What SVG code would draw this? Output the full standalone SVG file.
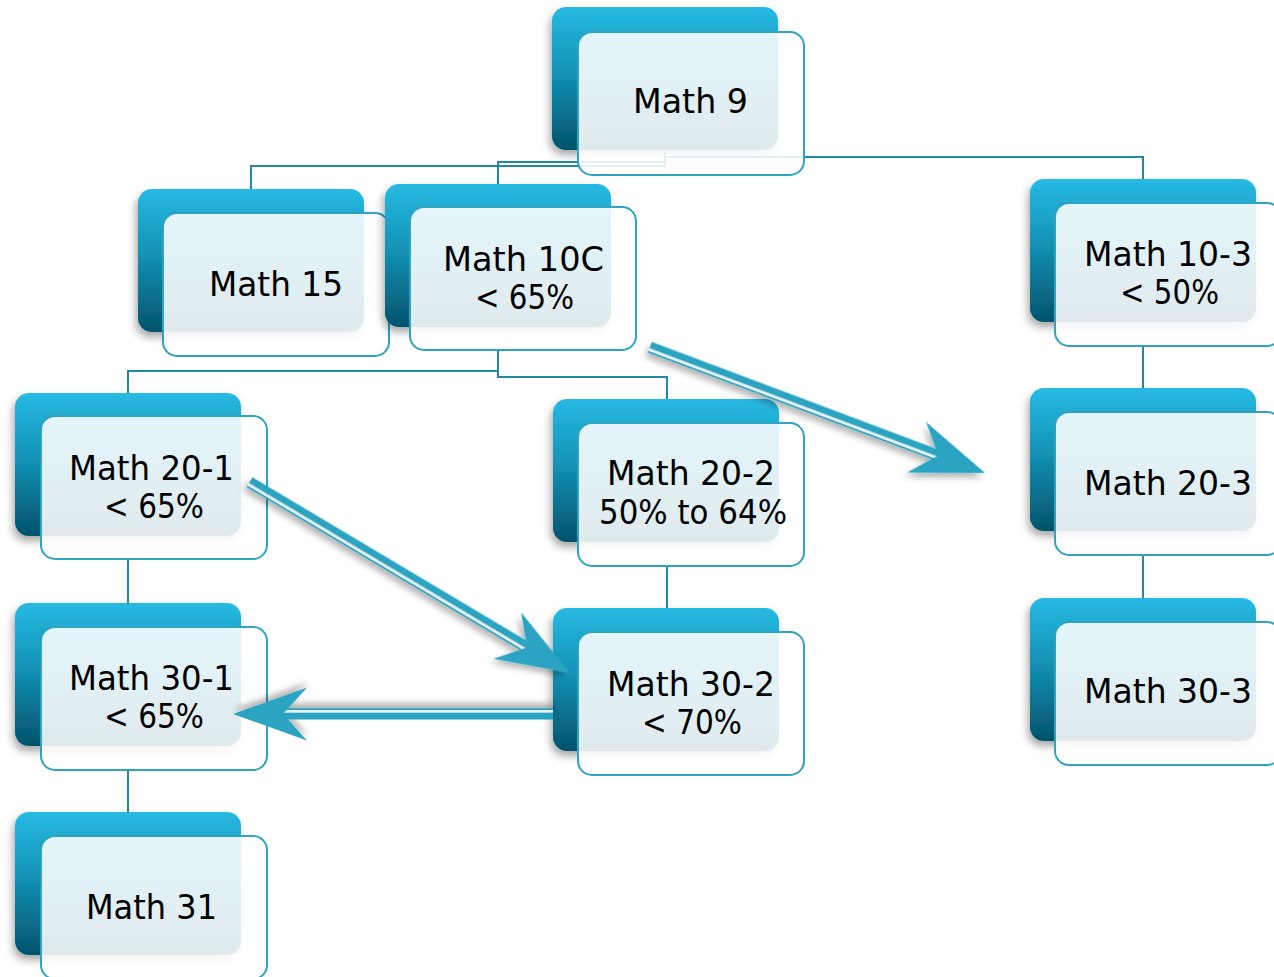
<svg xmlns="http://www.w3.org/2000/svg" width="1274" height="977" viewBox="0 0 1274 977">
<defs>
<linearGradient id="backGrad" x1="0" y1="0" x2="0" y2="1">
<stop offset="0" stop-color="#27bae2"/>
<stop offset="0.45" stop-color="#1393b6"/>
<stop offset="1" stop-color="#03536b"/>
</linearGradient>
<filter id="shadow" x="-20%" y="-20%" width="140%" height="150%">
<feDropShadow dx="-2" dy="5" stdDeviation="4" flood-color="#000" flood-opacity="0.35"/>
</filter>
<filter id="ashadow" x="-20%" y="-50%" width="140%" height="200%">
<feDropShadow dx="-1" dy="5" stdDeviation="3" flood-color="#000" flood-opacity="0.3"/>
</filter>
<g id="arrow">
<polygon points="0,-5.5 -270,-5.5 -270,5.5 0,5.5" fill="#2ba3c0"/>
</g>
</defs>
<style>
.back{fill:url(#backGrad);filter:url(#shadow)}
.front{fill:#ffffff;fill-opacity:0.88;stroke:#2fa3c0;stroke-width:2}
.lbl{font-family:"DejaVu Sans","Liberation Sans",sans-serif;font-size:33px;fill:#000;text-anchor:middle}
.conn{fill:none;stroke:#2289a5;stroke-width:2}
.ahead{fill:#2ba4c0}
.ashaft{fill:#2ba4c0}
.astripe{fill:#e8f2f5}
</style>

<g id="connectors">
<path class="conn" d="M665,151 V166 H251 V189"/>
<path class="conn" d="M665,151 V162 H498 V184"/>
<path class="conn" d="M665,151 V157 H1143 V179"/>
<path class="conn" d="M498,350 V371 H128 V393"/>
<path class="conn" d="M498,350 V377 H667 V399"/>
<path class="conn" d="M1143,346 V388"/>
<path class="conn" d="M1143,555 V598"/>
<path class="conn" d="M128,559 V603"/>
<path class="conn" d="M128,769 V812"/>
<path class="conn" d="M667,565 V608"/>
</g>

<g id="node-math9">
<rect class="back" x="552" y="7" width="226" height="143" rx="14"/>
<rect class="front" x="578" y="32" width="226" height="143" rx="14"/>
<text class="lbl" x="690.5" y="113" textLength="115" lengthAdjust="spacingAndGlyphs">Math 9</text>
</g>
<g id="node-math15">
<rect class="back" x="138" y="189" width="226" height="143" rx="14"/>
<rect class="front" x="163" y="213" width="226" height="143" rx="14"/>
<text class="lbl" x="276" y="296" textLength="134" lengthAdjust="spacingAndGlyphs">Math 15</text>
</g>
<g id="node-math10c">
<rect class="back" x="385" y="184" width="226" height="143" rx="14"/>
<rect class="front" x="410" y="207" width="226" height="143" rx="14"/>
<text class="lbl" x="523.5" y="271" textLength="161" lengthAdjust="spacingAndGlyphs">Math 10C</text>
<text class="lbl" x="524.5" y="309" textLength="99" lengthAdjust="spacingAndGlyphs">&lt; 65%</text>
</g>
<g id="node-math10-3">
<rect class="back" x="1030" y="179" width="226" height="143" rx="14"/>
<rect class="front" x="1055" y="203" width="226" height="143" rx="14"/>
<text class="lbl" x="1168" y="266" textLength="168" lengthAdjust="spacingAndGlyphs">Math 10-3</text>
<text class="lbl" x="1169.5" y="304" textLength="99" lengthAdjust="spacingAndGlyphs">&lt; 50%</text>
</g>
<g id="node-math20-1">
<rect class="back" x="15" y="393" width="226" height="143" rx="14"/>
<rect class="front" x="41" y="416" width="226" height="143" rx="14"/>
<text class="lbl" x="151.5" y="480" textLength="165" lengthAdjust="spacingAndGlyphs">Math 20-1</text>
<text class="lbl" x="154" y="518" textLength="100" lengthAdjust="spacingAndGlyphs">&lt; 65%</text>
</g>
<g id="node-math20-2">
<rect class="back" x="553" y="399" width="226" height="143" rx="14"/>
<rect class="front" x="578" y="423" width="226" height="143" rx="14"/>
<text class="lbl" x="691" y="485" textLength="168" lengthAdjust="spacingAndGlyphs">Math 20-2</text>
<text class="lbl" x="693" y="524" textLength="188" lengthAdjust="spacingAndGlyphs">50% to 64%</text>
</g>
<g id="node-math20-3">
<rect class="back" x="1030" y="388" width="226" height="143" rx="14"/>
<rect class="front" x="1055" y="412" width="226" height="143" rx="14"/>
<text class="lbl" x="1168" y="495" textLength="168" lengthAdjust="spacingAndGlyphs">Math 20-3</text>
</g>
<g id="node-math30-1">
<rect class="back" x="15" y="603" width="226" height="143" rx="14"/>
<rect class="front" x="41" y="627" width="226" height="143" rx="14"/>
<text class="lbl" x="151.5" y="690" textLength="165" lengthAdjust="spacingAndGlyphs">Math 30-1</text>
<text class="lbl" x="154" y="728" textLength="100" lengthAdjust="spacingAndGlyphs">&lt; 65%</text>
</g>
<g id="node-math30-2">
<rect class="back" x="553" y="608" width="226" height="143" rx="14"/>
<rect class="front" x="578" y="632" width="226" height="143" rx="14"/>
<text class="lbl" x="691" y="696" textLength="168" lengthAdjust="spacingAndGlyphs">Math 30-2</text>
<text class="lbl" x="692" y="734" textLength="100" lengthAdjust="spacingAndGlyphs">&lt; 70%</text>
</g>
<g id="node-math30-3">
<rect class="back" x="1030" y="598" width="226" height="143" rx="14"/>
<rect class="front" x="1055" y="622" width="226" height="143" rx="14"/>
<text class="lbl" x="1168" y="703" textLength="168" lengthAdjust="spacingAndGlyphs">Math 30-3</text>
</g>
<g id="node-math31">
<rect class="back" x="15" y="812" width="226" height="143" rx="14"/>
<rect class="front" x="41" y="836" width="226" height="143" rx="14"/>
<text class="lbl" x="151.5" y="919" textLength="131" lengthAdjust="spacingAndGlyphs">Math 31</text>
</g>

<g id="arrows">
<!-- Math 10C to Math 20-3 -->
<g transform="translate(985,473) rotate(20.6)" filter="url(#ashadow)">
<rect class="ashaft" x="-358" y="-5.5" width="310" height="7"/>
<rect class="astripe" x="-358" y="1.5" width="310" height="2.5"/>
<rect class="ashaft" x="-358" y="4" width="310" height="1.8"/>
<polygon class="ahead" points="0,0 -73,-27 -50,0 -73,27"/>
</g>
<!-- Math 20-1 to Math 30-2 -->
<g transform="translate(570,673) rotate(30.8)" filter="url(#ashadow)">
<rect class="ashaft" x="-373" y="-5.5" width="325" height="7"/>
<rect class="astripe" x="-373" y="1.5" width="325" height="2.5"/>
<rect class="ashaft" x="-373" y="4" width="325" height="1.8"/>
<polygon class="ahead" points="0,0 -73,-27 -50,0 -73,27"/>
</g>
<!-- Math 30-2 to Math 30-1 -->
<g transform="translate(233,714) rotate(180)" filter="url(#ashadow)">
<rect class="ashaft" x="-320" y="-5.5" width="272" height="7"/>
<rect class="astripe" x="-320" y="1.5" width="272" height="2.5"/>
<rect class="ashaft" x="-320" y="4" width="272" height="1.8"/>
<polygon class="ahead" points="0,0 -74,-26.5 -50,0 -74,26.5"/>
</g>
</g>
</svg>
